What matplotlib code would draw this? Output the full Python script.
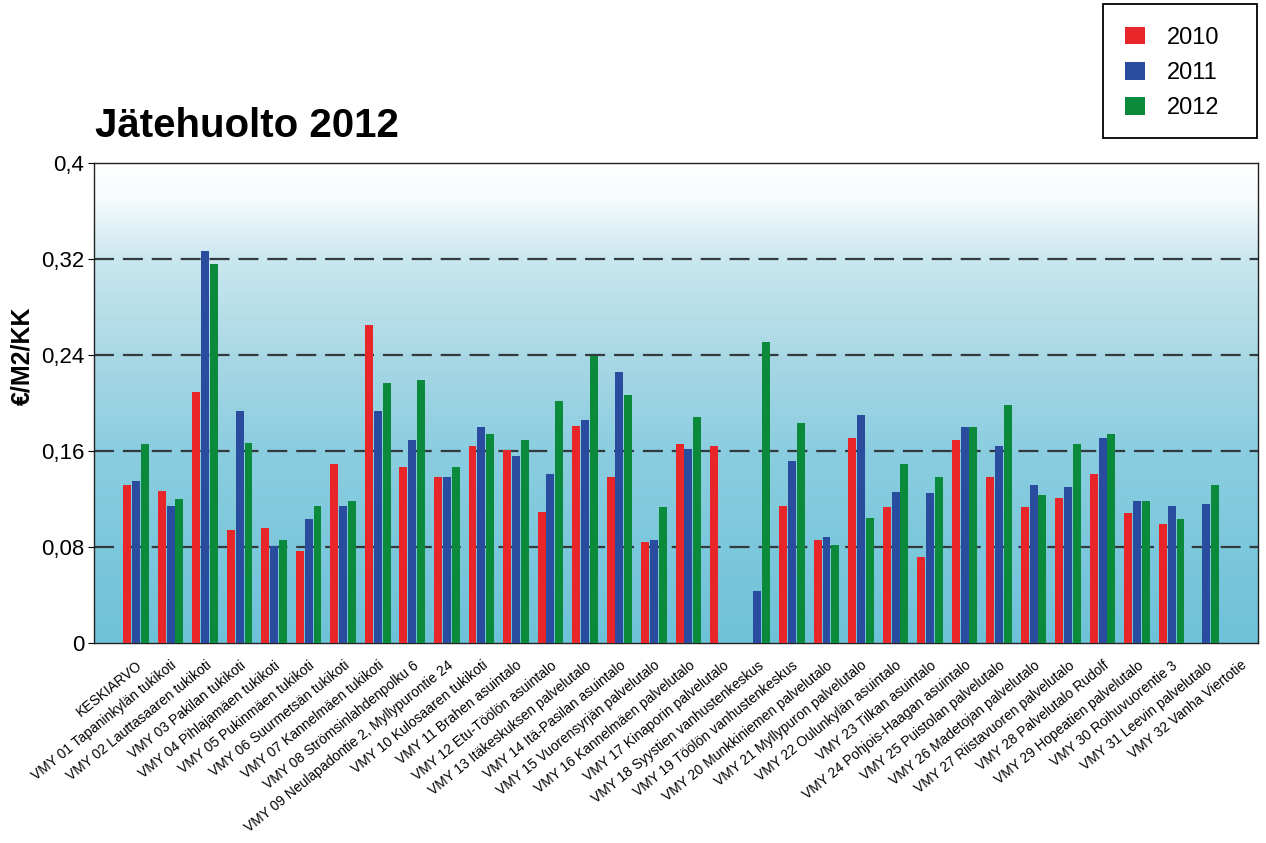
import numpy as np
import matplotlib
matplotlib.use("Agg")
import matplotlib.pyplot as plt
import matplotlib.transforms as mtransforms
from matplotlib.colors import LinearSegmentedColormap
from matplotlib.patches import Patch, Rectangle

plt.rcParams['font.family'] = ['Liberation Sans', 'DejaVu Sans']

categories = [
    "KESKIARVO",
    "VMY 01 Tapaninkylän tukikoti",
    "VMY 02 Lauttasaaren tukikoti",
    "VMY 03 Pakilan tukikoti",
    "VMY 04 Pihlajamäen tukikoti",
    "VMY 05 Pukinmäen tukikoti",
    "VMY 06 Suurmetsän tukikoti",
    "VMY 07 Kannelmäen tukikoti",
    "VMY 08 Strömsinlahdenpolku 6",
    "VMY 09 Neulapadontie 2, Myllypurontie 24",
    "VMY 10 Kulosaaren tukikoti",
    "VMY 11 Brahen asuintalo",
    "VMY 12 Etu-Töölön asuintalo",
    "VMY 13 Itäkeskuksen palvelutalo",
    "VMY 14 Itä-Pasilan asuintalo",
    "VMY 15 Vuorensyrjän palvelutalo",
    "VMY 16 Kannelmäen palvelutalo",
    "VMY 17 Kinaporin palvelutalo",
    "VMY 18 Syystien vanhustenkeskus",
    "VMY 19 Töölön vanhustenkeskus",
    "VMY 20 Munkkiniemen palvelutalo",
    "VMY 21 Myllypuron palvelutalo",
    "VMY 22 Oulunkylän asuintalo",
    "VMY 23 Tilkan asuintalo",
    "VMY 24 Pohjois-Haagan asuintalo",
    "VMY 25 Puistolan palvelutalo",
    "VMY 26 Madetojan palvelutalo",
    "VMY 27 Riistavuoren palvelutalo",
    "VMY 28 Palvelutalo Rudolf",
    "VMY 29 Hopeatien palvelutalo",
    "VMY 30 Roihuvuorentie 3",
    "VMY 31 Leevin palvelutalo",
    "VMY 32 Vanha Viertotie",
]

nan = np.nan
v2010 = [0.132, 0.127, 0.209, 0.094, 0.096, 0.077, 0.149, 0.265, 0.147, 0.138,
         0.164, 0.161, 0.109, 0.181, 0.138, 0.084, 0.166, 0.164, nan, 0.114,
         0.086, 0.171, 0.113, 0.072, 0.169, 0.138, 0.113, 0.121, 0.141, 0.108,
         0.099, nan, nan]
v2011 = [0.135, 0.114, 0.327, 0.193, 0.081, 0.103, 0.114, 0.193, 0.169, 0.138,
         0.180, 0.156, 0.141, 0.186, 0.226, 0.086, 0.162, nan, 0.043, 0.152,
         0.088, 0.190, 0.126, 0.125, 0.180, 0.164, 0.132, 0.130, 0.171, 0.118,
         0.114, 0.116, nan]
v2012 = [0.166, 0.120, 0.316, 0.167, 0.086, 0.114, 0.118, 0.217, 0.219, 0.147,
         0.174, 0.169, 0.202, 0.239, 0.207, 0.113, 0.188, nan, 0.251, 0.183,
         0.082, 0.104, 0.149, 0.138, 0.180, 0.198, 0.123, 0.166, 0.174, 0.118,
         0.103, 0.132, nan]
series_names = ["2010", "2011", "2012"]
colors = ["#e8262a", "#2a4c9e", "#0b8a3c"]
yticks = [0, 0.08, 0.16, 0.24, 0.32, 0.4]
ytick_labels = ["0", "0,08", "0,16", "0,24", "0,32", "0,4"]

W, H = 1266, 843
fig = plt.figure(figsize=(W/100, H/100), dpi=100)
ax = fig.add_axes([94/W, 1-643/H, (1258-94)/W, (643-163)/H])

# gradient background
cmap = LinearSegmentedColormap.from_list(
    "bg", [(0.0, "#6ec2d8"), (0.4, "#8bcde0"), (0.6, "#a9d8e5"),
           (0.8, "#cae7ef"), (0.93, "#f7fbfd"), (1.0, "#ffffff")])
grad = np.linspace(0, 1, 256).reshape(-1, 1)
ax.imshow(grad, aspect='auto', cmap=cmap, origin='lower',
          extent=[0, 1, 0, 1], transform=ax.transAxes, zorder=0)

x = np.arange(len(categories))
w = 0.23
off = 0.255
for i, (vals, c) in enumerate(zip([v2010, v2011, v2012], colors)):
    ax.bar(x + (i - 1) * off, vals, width=w, color=c, zorder=3, label=series_names[i])

ax.set_xlim(-1.22, 32.5)
ax.set_ylim(0, 0.4)
ax.set_yticks(yticks)
ax.set_yticklabels(ytick_labels, fontsize=16)
for yv in yticks[1:-1]:
    ax.axhline(yv, color="#333a3d", lw=1.6, dashes=(9, 4), zorder=2)

ax.set_xticks(x)
ax.set_xticklabels(categories, rotation=39, ha='right', va='top',
                   rotation_mode='anchor', fontsize=10)
shift = mtransforms.ScaledTranslation(5/100, 0, fig.dpi_scale_trans)
for lbl in ax.get_xticklabels():
    lbl.set_transform(lbl.get_transform() + shift)
ax.tick_params(axis='x', length=0, pad=11)
ax.tick_params(axis='y', length=4, width=0.8, pad=3)
for s in ax.spines.values():
    s.set_linewidth(1.0)
    s.set_color("#222222")

fig.text(22/W, 1-356/H, "€/M2/KK", fontsize=18, fontweight='bold',
         rotation=90, ha='center', va='center')

fig.text(95/W, 1-137/H, "Jätehuolto 2012", fontsize=29, fontweight='bold',
         ha='left', va='baseline')

# legend box
fig.add_artist(Rectangle((1103/W, 1-138/H), (1257-1103)/W, (138-4)/H,
                         transform=fig.transFigure, facecolor='white',
                         edgecolor='black', linewidth=1.3, zorder=1))
handles = [Patch(facecolor=c, edgecolor='none') for c in colors]
leg = fig.legend(handles, series_names, loc='upper left',
                 bbox_to_anchor=(1125/W, 1-27/H), fontsize=17,
                 frameon=False,
                 handlelength=0.85, handleheight=0.76, handletextpad=0.93,
                 labelspacing=0.56, borderpad=0, borderaxespad=0)
leg.set_zorder(2)

fig.savefig("out.png", dpi=100)
